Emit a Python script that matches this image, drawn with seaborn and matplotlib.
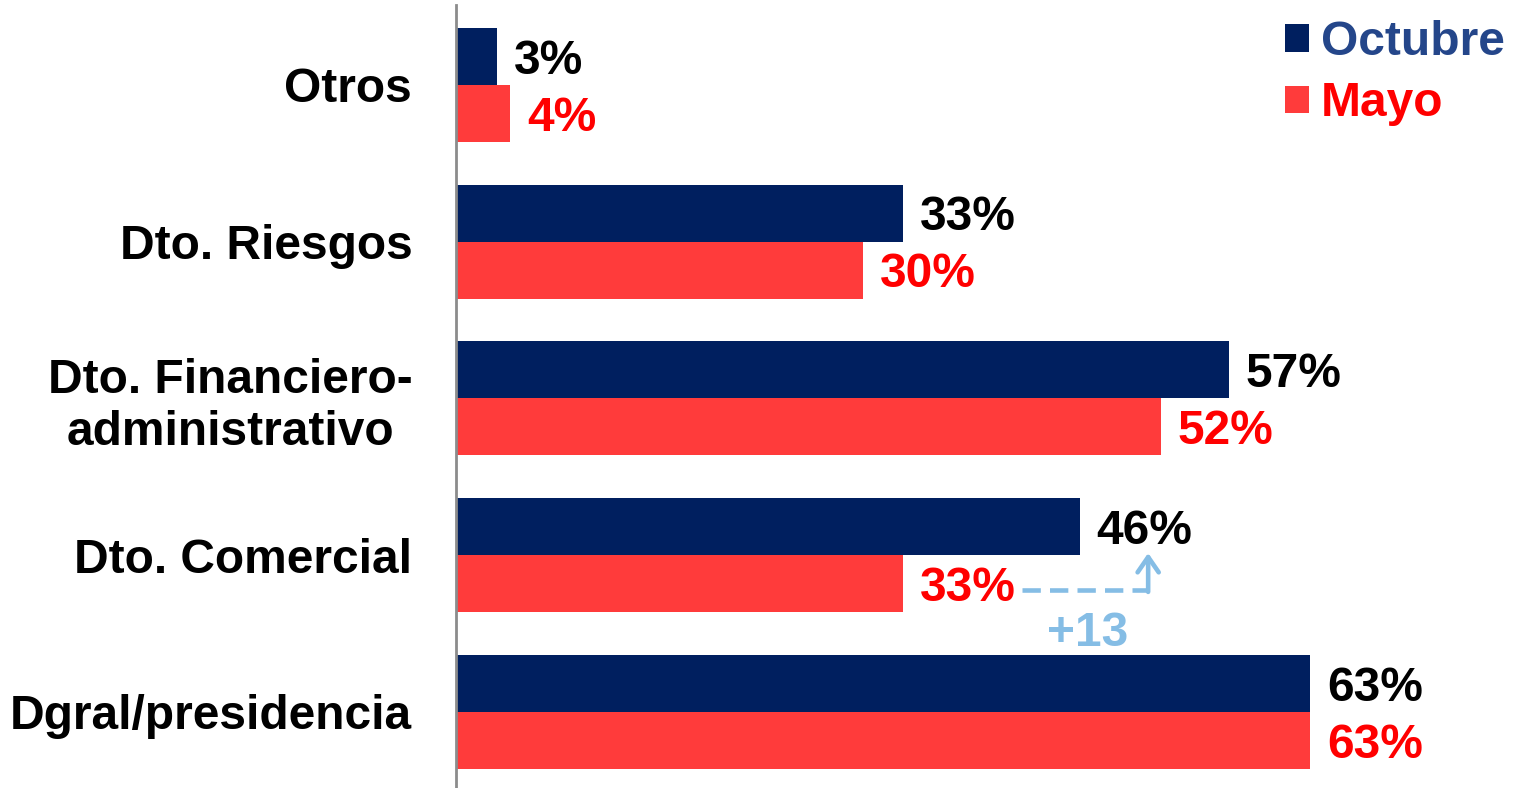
import matplotlib
matplotlib.use("Agg")
import matplotlib.pyplot as plt
import seaborn as sns
import pandas as pd
from matplotlib.patches import Patch

categories = ["Otros", "Dto. Riesgos", "Dto. Financiero-\nadministrativo",
              "Dto. Comercial", "Dgral/presidencia"]
series_names = ["Octubre", "Mayo"]
octubre = [3, 33, 57, 46, 63]
mayo = [4, 30, 52, 33, 63]
change_label = "+13"

navy = "#001F5F"
red = "#FF3B3B"
label_red = "#FF0000"
legend_blue = "#24468A"
accent = "#85BDE5"
FS = 34.5

sns.set_theme(style="white")
plt.rcParams["font.family"] = ["Liberation Sans", "DejaVu Sans"]
plt.rcParams["font.weight"] = "bold"

df = pd.DataFrame({
    "categoria": categories * 2,
    "serie": [series_names[0]] * len(categories) + [series_names[1]] * len(categories),
    "valor": octubre + mayo,
})

W, H = 1514, 788
fig = plt.figure(figsize=(W / 100, H / 100), dpi=100)
ax_left, ax_right = 456, 1500
ax_top, ax_bottom = 5, 788
ax = fig.add_axes([ax_left / W, 1 - ax_bottom / H, (ax_right - ax_left) / W, (ax_bottom - ax_top) / H])

sns.barplot(data=df, y="categoria", x="valor", hue="serie", orient="h",
            palette=[navy, red], width=0.727, ax=ax, legend=False,
            saturation=1, edgecolor="none")

ax.set_xlim(0, 77)
ax.set_ylim(4.485, -0.510)
ax.set_xlabel("")
ax.set_ylabel("")
ax.set_xticks([])
for s in ["top", "right", "bottom"]:
    ax.spines[s].set_visible(False)
ax.spines["left"].set_color("#8C8C8C")
ax.spines["left"].set_linewidth(2)
ax.tick_params(axis="y", length=0, pad=31.5)
for t in ax.get_yticklabels():
    t.set_fontsize(FS)
    t.set_fontweight("bold")
    t.set_multialignment("center")
    t.set_color("black")

off = 0.727 / 4
for i in range(len(categories)):
    ax.text(octubre[i] + 1.25, i - off + 0.03, f"{octubre[i]}%", va="center", ha="left",
            fontsize=FS, fontweight="bold", color="black")
    ax.text(mayo[i] + 1.25, i + off + 0.03, f"{mayo[i]}%", va="center", ha="left",
            fontsize=FS, fontweight="bold", color=label_red)

# change marker on Dto. Comercial: dashed run from the May label, then an upward arrow
y_low = 3.222
y_tip = 2.986
x_start = 41.75
x_turn = 51.05
ax.plot([x_start, x_turn], [y_low, y_low], color=accent, lw=3.3,
        ls=(0, (4, 2)), solid_capstyle="butt")
ax.annotate("", xy=(x_turn, y_tip), xytext=(x_turn, y_low + 0.012),
            arrowprops=dict(arrowstyle="->,head_width=0.38,head_length=0.55", color=accent,
                            lw=3.3, mutation_scale=20, shrinkA=0, shrinkB=0))
ax.text(46.6, 3.50, change_label, ha="center", va="center",
        fontsize=FS, fontweight="bold", color=accent)

handles = [Patch(facecolor=navy, edgecolor="none"), Patch(facecolor=red, edgecolor="none")]
leg = fig.legend(handles, series_names, loc="upper left", bbox_to_anchor=(1285 / W, 1 - 20 / H),
                 frameon=False, prop={"size": FS, "weight": "bold"},
                 handlelength=0.5, handleheight=0.5, handletextpad=0.25, labelspacing=0.34,
                 borderaxespad=0, borderpad=0)
for txt, c in zip(leg.get_texts(), [legend_blue, label_red]):
    txt.set_color(c)

fig.savefig("out.png", dpi=100)
